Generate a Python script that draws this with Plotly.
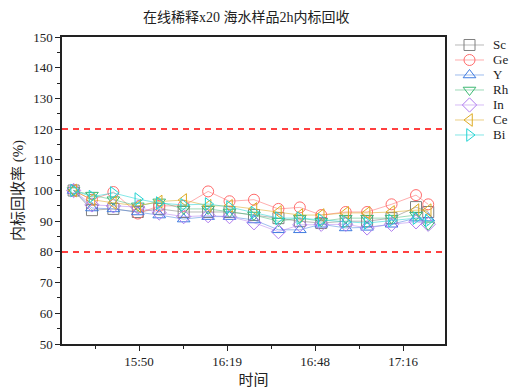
import plotly.graph_objects as go

times = ["15:29", "15:35", "15:42", "15:50", "15:57", "16:05", "16:13", "16:20", "16:28",
         "16:36", "16:43", "16:50", "16:58", "17:05", "17:13", "17:21", "17:25"]
Sc = [100, 93.6, 94, 93, 94, 93, 93, 93, 92, 91, 90, 89.4, 90, 90, 91, 94.6, 93]
Ge = [100, 97, 99.5, 92.5, 95, 95, 99.7, 96.5, 97, 94, 94.5, 92, 93, 93, 95.5, 98.5, 95.5]
Y = [100, 94.3, 94, 93, 92, 90.7, 91.5, 91.5, 90.4, 87.2, 87.2, 89, 87.8, 88, 89, 91, 91]
Rh = [100, 98.5, 97, 95, 96.3, 94, 94, 93, 92, 90, 91, 90, 91, 91, 91, 92, 88.8]
In = [100, 95.3, 95, 94.6, 92.7, 91.5, 91.8, 91.5, 89.5, 86.6, 88.8, 89, 89, 87.8, 89, 89.8, 89]
Ce = [100, 97, 96, 95, 96.4, 96.9, 95, 95, 94, 93, 92, 92, 92.7, 92.7, 93, 93.6, 93.6]
Bi = [100, 98, 99.2, 97.2, 95.9, 95.3, 95.6, 94.6, 92.8, 91, 91, 90.4, 89.8, 89.4, 90.2, 91, 90.2]

tick_days = [0.66, 0.68, 0.70, 0.72]
tick_text = ["15:50", "16:19", "16:48", "17:16"]
limits = [120, 80]


def to_day(t):
    h, m = t.split(":")
    return (int(h) * 60 + int(m)) / 1440.0


x = [to_day(t) for t in times]

series = [
    ("Sc", Sc, "square-open", "#808080", "rgba(128,128,128,0.55)"),
    ("Ge", Ge, "circle-open", "#FF6B6B", "rgba(255,107,107,0.55)"),
    ("Y", Y, "triangle-up-open", "#3F7BE0", "rgba(63,123,224,0.5)"),
    ("Rh", Rh, "triangle-down-open", "#3DB873", "rgba(61,184,115,0.5)"),
    ("In", In, "diamond-open", "#B07CF0", "rgba(176,124,240,0.5)"),
    ("Ce", Ce, "triangle-left-open", "#DDAA22", "rgba(221,170,34,0.55)"),
    ("Bi", Bi, "triangle-right-open", "#22D3D3", "rgba(34,211,211,0.55)"),
]

FONT = "Liberation Serif, Noto Sans CJK SC, serif"

fig = go.Figure()
for name, vals, sym, mc, lc in series:
    fig.add_trace(go.Scatter(
        x=x, y=vals, name=name, mode="lines+markers", showlegend=False,
        line=dict(color=lc, width=1),
        marker=dict(symbol=sym, size=11, color=mc, line=dict(color=mc, width=1)),
    ))

# custom legend drawn in a small side axis (rows = series order)
for i, (name, vals, sym, mc, lc) in enumerate(series):
    fig.add_trace(go.Scatter(
        x=[0, 1], y=[i, i], mode="lines", xaxis="x2", yaxis="y2", showlegend=False,
        line=dict(color=lc, width=1), hoverinfo="skip", cliponaxis=False))
    fig.add_trace(go.Scatter(
        x=[0.5], y=[i], mode="markers", xaxis="x2", yaxis="y2", showlegend=False,
        marker=dict(symbol=sym, size=11, color=mc, line=dict(color=mc, width=1)),
        hoverinfo="skip", cliponaxis=False))
    fig.add_annotation(x=1.25, y=i, xref="x2", yref="y2", text=name, showarrow=False,
                       xanchor="left", yanchor="middle",
                       font=dict(family=FONT, size=13, color="#222"))

for v in limits:
    fig.add_shape(type="line", xref="x domain", x0=0, x1=1, yref="y", y0=v, y1=v,
                  line=dict(color="red", width=1.5, dash="6px,5px"))

fig.update_layout(
    width=513, height=388,
    margin=dict(l=62, r=0, t=37, b=44, autoexpand=False),
    paper_bgcolor="white", plot_bgcolor="white",
    font=dict(family=FONT, size=13, color="#222"),
    title=dict(text="在线稀释x20 海水样品2h内标回收", x=0.48, xanchor="center",
               y=0.955, yanchor="middle", font=dict(family=FONT, size=14, color="#222")),
    showlegend=False,
    xaxis2=dict(domain=[0.8714, 1.0], range=[0, 2.0], visible=False, anchor="y2"),
    yaxis2=dict(domain=[0.6564, 0.9984], range=[6.5, -0.5], visible=False, anchor="x2"),
    xaxis=dict(
        domain=[0, 0.8492],
        range=[0.6425, 0.7295], tickvals=tick_days, ticktext=tick_text, automargin=False,
        ticks="outside", ticklen=5, tickwidth=1.2, tickcolor="#222",
        minor=dict(dtick=0.01, tick0=0.65, ticks="outside", ticklen=3, tickcolor="#222"),
        showline=True, linecolor="#222", linewidth=1.5, mirror=True,
        showgrid=False, zeroline=False,
        title=dict(text="时间", font=dict(family=FONT, size=15), standoff=6),
        tickfont=dict(family=FONT, size=13),
    ),
    yaxis=dict(
        range=[50, 150], dtick=10, tick0=50, automargin=False,
        ticks="outside", ticklen=5, tickwidth=1.2, tickcolor="#222",
        minor=dict(dtick=5, ticks="outside", ticklen=3, tickcolor="#222"),
        showline=True, linecolor="#222", linewidth=1.5, mirror=True,
        showgrid=False, zeroline=False,
        title=dict(text="内标回收率 (%)", font=dict(family=FONT, size=15), standoff=6),
        tickfont=dict(family=FONT, size=13),
    ),
)

fig.write_html("out.html")
